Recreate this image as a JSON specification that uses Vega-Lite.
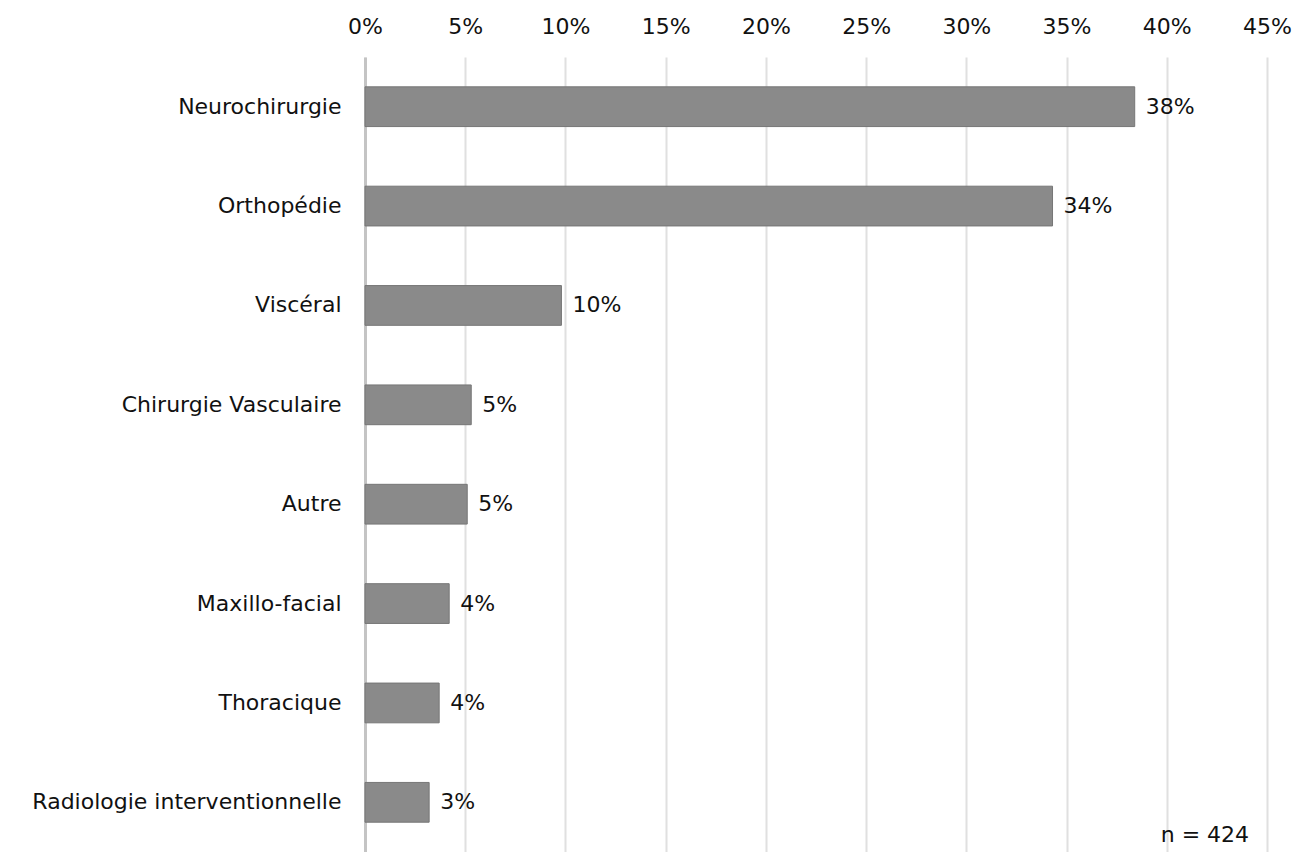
{
  "$schema": "https://vega.github.io/schema/vega-lite/v6.json",
  "width": 902,
  "height": 795,
  "autosize": "none",
  "padding": {"left": 365, "top": 57, "right": 38, "bottom": 0},
  "background": "white",
  "config": {
    "view": {"stroke": null},
    "font": "DejaVu Sans"
  },
  "datasets": {
    "main": [
      {"specialite": "Neurochirurgie", "part": 0.384},
      {"specialite": "Orthopédie", "part": 0.343},
      {"specialite": "Viscéral", "part": 0.098},
      {"specialite": "Chirurgie Vasculaire", "part": 0.053},
      {"specialite": "Autre", "part": 0.051},
      {"specialite": "Maxillo-facial", "part": 0.042},
      {"specialite": "Thoracique", "part": 0.037},
      {"specialite": "Radiologie interventionnelle", "part": 0.032}
    ],
    "note": [
      {"specialite": "Radiologie interventionnelle", "part": 0.419, "texte": "n = 424"}
    ]
  },
  "layer": [
    {
      "data": {"name": "main"},
      "mark": {"type": "bar", "fill": "#8a8a8a", "stroke": "#767676", "strokeWidth": 1},
      "encoding": {
        "y": {
          "field": "specialite", "type": "nominal", "sort": null,
          "scale": {"paddingInner": 0.6, "paddingOuter": 0.3},
          "axis": {
            "title": null, "ticks": false, "tickSize": 0, "labelPadding": 24,
            "labelFontSize": 22, "labelColor": "#111", "labelFont": "DejaVu Sans",
            "domain": true, "domainColor": "#c4c4c4", "domainWidth": 3, "labelLimit": 400
          }
        },
        "x": {
          "field": "part", "type": "quantitative",
          "scale": {"domain": [0, 0.45], "nice": false},
          "axis": {
            "orient": "top", "title": null, "format": ".0%", "values": [0,0.05,0.1,0.15,0.2,0.25,0.3,0.35,0.4,0.45],
            "ticks": false, "tickSize": 0, "labelPadding": 19, "domain": false, "labelFlush": false,
            "labelFontSize": 22, "labelColor": "#111", "labelFont": "DejaVu Sans",
            "grid": true, "gridColor": "#e0e0e0", "gridWidth": 2
          }
        }
      }
    },
    {
      "data": {"name": "main"},
      "mark": {"type": "text", "align": "left", "dx": 11, "fontSize": 22, "color": "#111", "font": "DejaVu Sans"},
      "encoding": {
        "y": {"field": "specialite", "type": "nominal", "sort": null},
        "x": {"field": "part", "type": "quantitative"},
        "text": {"field": "part", "type": "quantitative", "format": ".0%"}
      }
    },
    {
      "data": {"name": "note"},
      "mark": {"type": "text", "align": "center", "dy": 33, "fontSize": 22, "color": "#111", "font": "DejaVu Sans"},
      "encoding": {
        "y": {"field": "specialite", "type": "nominal", "sort": null},
        "x": {"field": "part", "type": "quantitative"},
        "text": {"field": "texte", "type": "nominal"}
      }
    }
  ]
}
